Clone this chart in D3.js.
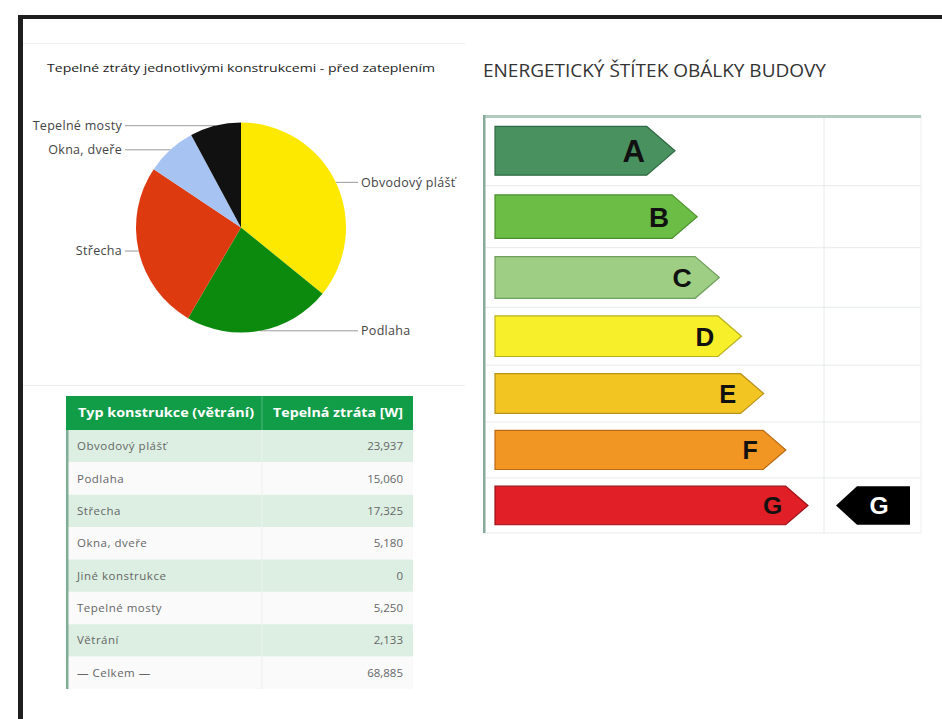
<!DOCTYPE html>
<html><head><meta charset="utf-8">
<script src="https://cdn.jsdelivr.net/npm/d3@7"></script>
<style>body{margin:0;background:#fff}svg{display:block}</style>
</head><body><svg id="c" width="942" height="719"></svg>
<script>
// ---- data ----
const pieTitle = "Tepelné ztráty jednotlivými konstrukcemi - před zateplením";
const pieCategories = ["Obvodový plášť", "Podlaha", "Střecha", "Okna, dveře", "Tepelné mosty"];
const pieValues = [23937, 15060, 17325, 5180, 5250];
const pieColors = ["#fde800", "#0b8a0d", "#dd3a10", "#a7c3f2", "#111111"];

const tableHeaders = ["Typ konstrukce (větrání)", "Tepelná ztráta [W]"];
const tableLabels = ["Obvodový plášť", "Podlaha", "Střecha", "Okna, dveře", "Jiné konstrukce", "Tepelné mosty", "Větrání", "— Celkem —"];
const tableValues = [23937, 15060, 17325, 5180, 0, 5250, 2133, 68885];

const labelTitle = "ENERGETICKÝ ŠTÍTEK OBÁLKY BUDOVY";
const energyClasses = ["A", "B", "C", "D", "E", "F", "G"];
const classColors = ["#4a9160", "#6cbd45", "#9dce84", "#f7ef2a", "#f3c523", "#f29623", "#e01f27"];
const classStroke = ["#2f6b43", "#4a8f2c", "#6f9f5c", "#b8b020", "#b8901a", "#b86a14", "#9c1218"];
const currentClass = "G";

// ---- drawing ----
const svg = d3.select("#c");
const font = "'Open Sans', 'Liberation Sans', sans-serif";

// outer frame
svg.append("rect").attr("x", 18).attr("y", 15).attr("width", 930).attr("height", 4).attr("fill", "#1e1e1e");
svg.append("rect").attr("x", 18).attr("y", 15).attr("width", 5).attr("height", 710).attr("fill", "#1e1e1e");

// left panel separators
svg.append("line").attr("x1", 23).attr("x2", 465).attr("y1", 43.5).attr("y2", 43.5).attr("stroke", "#eeeeee");
svg.append("line").attr("x1", 23).attr("x2", 465).attr("y1", 385.5).attr("y2", 385.5).attr("stroke", "#ececec");

// pie title
svg.append("text").attr("x", 47).attr("y", 72).attr("font-family", font).attr("font-size", 11)
  .attr("fill", "#222").attr("textLength", 388).attr("lengthAdjust", "spacingAndGlyphs").text(pieTitle);

// pie
const cx = 241, cy = 227.5, R = 105;
const pie = d3.pie().sort(null).value(d => d)(pieValues);
const arc = d3.arc().innerRadius(0).outerRadius(R);
const gp = svg.append("g").attr("transform", `translate(${cx},${cy})`);
const outerPt = d => {
  const a = (d.startAngle + d.endAngle) / 2;
  return [R * Math.sin(a), -R * Math.cos(a), a];
};
// leader lines
pie.forEach((d, i) => {
  const [x, y, a] = outerPt(d);
  const right = a < Math.PI;
  const lx = right ? 117 : -116;
  gp.append("line").attr("x1", x).attr("y1", y).attr("x2", lx).attr("y2", y)
    .attr("stroke", "#9a9a9a").attr("stroke-width", 1);
  gp.append("text").attr("x", right ? lx + 3 : lx - 3).attr("y", y).attr("dy", "0.35em")
    .attr("text-anchor", right ? "start" : "end").attr("font-family", font).attr("font-size", 12.5)
    .attr("letter-spacing", 0.3).attr("fill", "#444").text(pieCategories[i]);
});
gp.selectAll("path.slice").data(pie).join("path").attr("class", "slice")
  .attr("d", arc).attr("fill", (d, i) => pieColors[i]).attr("stroke", "none");

// table
const tx0 = 66, tx1 = 413, tcol = 262;
const rowY = d3.scaleBand().domain(d3.range(tableLabels.length)).range([430, 689]);
const fmt = d3.format(",");
svg.append("rect").attr("x", tx0).attr("y", 396).attr("width", tx1 - tx0).attr("height", 34).attr("fill", "#119c48");
svg.append("line").attr("x1", tcol).attr("x2", tcol).attr("y1", 396).attr("y2", 430).attr("stroke", "#4fb878");
svg.append("text").attr("x", 78).attr("y", 413).attr("dy", "0.35em").attr("font-family", font)
  .attr("font-weight", "bold").attr("font-size", 12).attr("fill", "#fff")
  .attr("textLength", 176).attr("lengthAdjust", "spacingAndGlyphs").text(tableHeaders[0]);
svg.append("text").attr("x", 403).attr("y", 413).attr("dy", "0.35em").attr("text-anchor", "end").attr("font-family", font)
  .attr("font-weight", "bold").attr("font-size", 12).attr("fill", "#fff")
  .attr("textLength", 130).attr("lengthAdjust", "spacingAndGlyphs").text(tableHeaders[1]);
const rows = svg.append("g").selectAll("g").data(tableLabels).join("g");
rows.append("rect").attr("x", tx0).attr("y", (d, i) => rowY(i)).attr("width", tx1 - tx0)
  .attr("height", rowY.bandwidth()).attr("fill", (d, i) => i % 2 === 0 ? "#dcefe2" : "#fafafa");
rows.append("line").attr("x1", tcol).attr("x2", tcol).attr("y1", (d, i) => rowY(i)).attr("y2", (d, i) => rowY(i) + rowY.bandwidth())
  .attr("stroke", (d, i) => i % 2 === 0 ? "#e9f5ed" : "#eeeeee");
rows.append("text").attr("x", 77).attr("y", (d, i) => rowY(i) + rowY.bandwidth() / 2).attr("dy", "0.35em")
  .attr("font-family", font).attr("font-size", 11.5).attr("letter-spacing", 0.5).attr("fill", "#666").text(d => d);
rows.append("text").attr("x", 403).attr("y", (d, i) => rowY(i) + rowY.bandwidth() / 2).attr("dy", "0.35em")
  .attr("text-anchor", "end").attr("font-family", font).attr("font-size", 11.5).attr("fill", "#666")
  .text((d, i) => fmt(tableValues[i]));
svg.append("rect").attr("x", tx0).attr("y", 430).attr("width", 2.5).attr("height", 259).attr("fill", "#7fae94");

// energy label
svg.append("text").attr("x", 483).attr("y", 77).attr("font-family", font).attr("font-size", 19)
  .attr("fill", "#333").attr("textLength", 343).attr("lengthAdjust", "spacingAndGlyphs").text(labelTitle);

const gx0 = 483, gx1 = 921, gcol = 824;
const rowScale = d3.scalePow().exponent(0.92).domain([0, energyClasses.length]).range([116, 533]);
const tipX = d3.scaleLinear().domain([0, energyClasses.length - 1]).range([675, 808]);
const gl = svg.append("g");
// grid
d3.range(1, energyClasses.length + 1).forEach(i => {
  gl.append("line").attr("x1", gx0).attr("x2", gx1).attr("y1", rowScale(i)).attr("y2", rowScale(i))
    .attr("stroke", "#e6eaec").attr("stroke-width", 1);
});
gl.append("line").attr("x1", gcol).attr("x2", gcol).attr("y1", 116).attr("y2", 533).attr("stroke", "#e6eaec");
gl.append("line").attr("x1", gx1).attr("x2", gx1).attr("y1", 116).attr("y2", 533).attr("stroke", "#eceff0");
gl.append("rect").attr("x", gx0).attr("y", 115).attr("width", gx1 - gx0).attr("height", 3).attr("fill", "#b3ccc0");
gl.append("rect").attr("x", gx0).attr("y", 115).attr("width", 2.5).attr("height", 418).attr("fill", "#86ab9a");

energyClasses.forEach((c, i) => {
  const y0 = rowScale(i), y1 = rowScale(i + 1);
  const h = (y1 - y0) * 0.7;
  const top = (y0 + y1) / 2 - h / 2, mid = (y0 + y1) / 2, bot = top + h;
  const tip = tipX(i), body = tip - h * 0.58;
  const left = 495;
  gl.append("path")
    .attr("d", `M${left},${top}L${body},${top}L${tip},${mid}L${body},${bot}L${left},${bot}Z`)
    .attr("fill", classColors[i]).attr("stroke", classStroke[i]).attr("stroke-width", 1.2);
  gl.append("text").attr("x", body - 13).attr("y", mid).attr("dy", "0.36em").attr("text-anchor", "middle")
    .attr("font-family", "'Liberation Sans', Arial, sans-serif").attr("font-weight", "bold")
    .attr("font-size", h * 0.64).attr("fill", "#111").text(c);
  if (c === currentClass) {
    const ih = h;
    const il = 836, ib = 857, ir = 910;
    gl.append("path")
      .attr("d", `M${il},${mid}L${ib},${top}L${ir},${top}L${ir},${bot}L${ib},${bot}Z`)
      .attr("fill", "#000");
    gl.append("text").attr("x", 879).attr("y", mid).attr("dy", "0.36em").attr("text-anchor", "middle")
      .attr("font-family", "'Liberation Sans', Arial, sans-serif").attr("font-weight", "bold")
      .attr("font-size", ih * 0.64).attr("fill", "#fff").text(c);
  }
});
</script>
</body></html>
